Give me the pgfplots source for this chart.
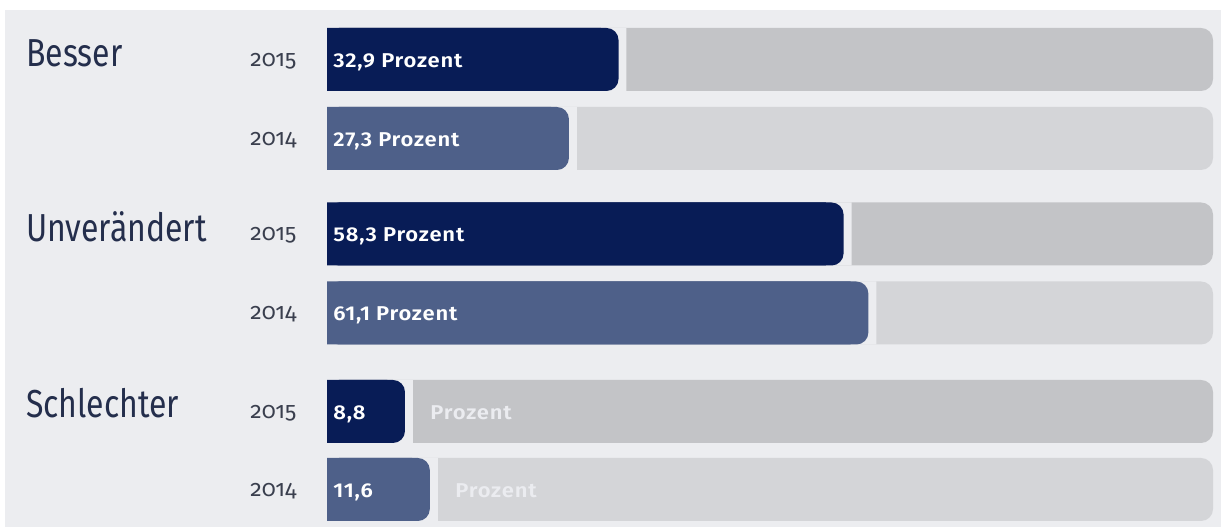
\documentclass[border=0pt]{standalone}
\usepackage{pgfplots}
\pgfplotsset{compat=1.18}
\usepackage{fontspec}
\setmainfont{Fira Sans}
\newfontfamily\titlefont[FakeStretch=0.82]{Fira Sans}
\newfontfamily\yearfont[Numbers=OldStyle]{Fira Sans}
\newfontfamily\barfont[FakeStretch=1.1, LetterSpace=4]{Fira Sans SemiBold}
\definecolor{navy}{RGB}{8,28,86}
\definecolor{slate}{RGB}{78,96,137}
\definecolor{grayA}{RGB}{195,196,199}
\definecolor{grayB}{RGB}{212,213,216}
\definecolor{bg}{RGB}{236,237,240}
\definecolor{titlec}{RGB}{36,46,76}
\definecolor{yearc}{RGB}{58,63,78}
\definecolor{lightt}{RGB}{235,236,240}
\tikzset{yr/.style={anchor=base west, inner sep=0pt, font=\yearfont\fontsize{11.5}{13}\selectfont, text=yearc},
  bl/.style={anchor=base west, inner sep=0pt, font=\barfont\fontsize{10}{12}\selectfont, text=white},
  tt/.style={anchor=base west, inner sep=0pt, font=\titlefont\fontsize{19.5}{22}\selectfont, text=titlec}}
\begin{document}
\begin{tikzpicture}
\begin{axis}[
  width=610.5pt, height=264.5pt, scale only axis,
  hide axis, clip=false,
  xmin=-36.91, xmax=100.90, ymin=-529, ymax=0,
  every axis plot/.append style={xbar, bar shift=0pt, bar width=31.5pt, draw=none},
]
% background
\fill[white] (rel axis cs:0,0) rectangle (rel axis cs:1,1);
\fill[bg] (axis cs:-36.35,-527) rectangle (axis cs:100.90,-10);
% grey remainder bars (to 100 %)
\addplot[fill=grayA, rounded corners=6pt] coordinates {(100,-59.5) (100,-234) (100,-411.5)};
\addplot[fill=grayB, rounded corners=6pt] coordinates {(100,-138.5) (100,-313) (100,-489.5)};
% gaps
\addplot[fill=bg] coordinates {(33.8,-59.5) (59.2,-234) (9.7,-411.5)};
\addplot[fill=bg] coordinates {(28.2,-138.5) (62.0,-313) (12.5,-489.5)};
% 2015 values
\addplot[fill=navy, rounded corners=6pt] coordinates {(32.9,-59.5) (58.3,-234) (8.8,-411.5)};
\addplot[fill=navy] coordinates {(30.9,-59.5) (56.3,-234) (6.8,-411.5)};
% 2014 values
\addplot[fill=slate, rounded corners=6pt] coordinates {(27.3,-138.5) (61.1,-313) (11.6,-489.5)};
\addplot[fill=slate] coordinates {(25.3,-138.5) (59.1,-313) (9.6,-489.5)};
% category titles
\node[tt] at (axis cs:-34.0,-67) {Besser};
\node[tt] at (axis cs:-34.0,-242) {Unverändert};
\node[tt] at (axis cs:-34.0,-418) {Schlechter};
% years
\node[yr] at (axis cs:-8.69,-66.5) {2015};
\node[yr] at (axis cs:-8.69,-145.5) {2014};
\node[yr] at (axis cs:-8.69,-241) {2015};
\node[yr] at (axis cs:-8.69,-320) {2014};
\node[yr] at (axis cs:-8.69,-418.5) {2015};
\node[yr] at (axis cs:-8.69,-496.5) {2014};
% bar labels
\node[bl] at (axis cs:0.68,-67.5) {32,9 Prozent};
\node[bl] at (axis cs:0.68,-146.5) {27,3 Prozent};
\node[bl] at (axis cs:0.68,-242) {58,3 Prozent};
\node[bl] at (axis cs:0.68,-321) {61,1 Prozent};
\node[bl] at (axis cs:0.68,-419.5) {8,8};
\node[bl] at (axis cs:0.68,-497.5) {11,6};
\node[bl, text=lightt] at (axis cs:11.63,-419.5) {Prozent};
\node[bl, text=lightt] at (axis cs:14.45,-497.5) {Prozent};
\end{axis}
\end{tikzpicture}
\end{document}
